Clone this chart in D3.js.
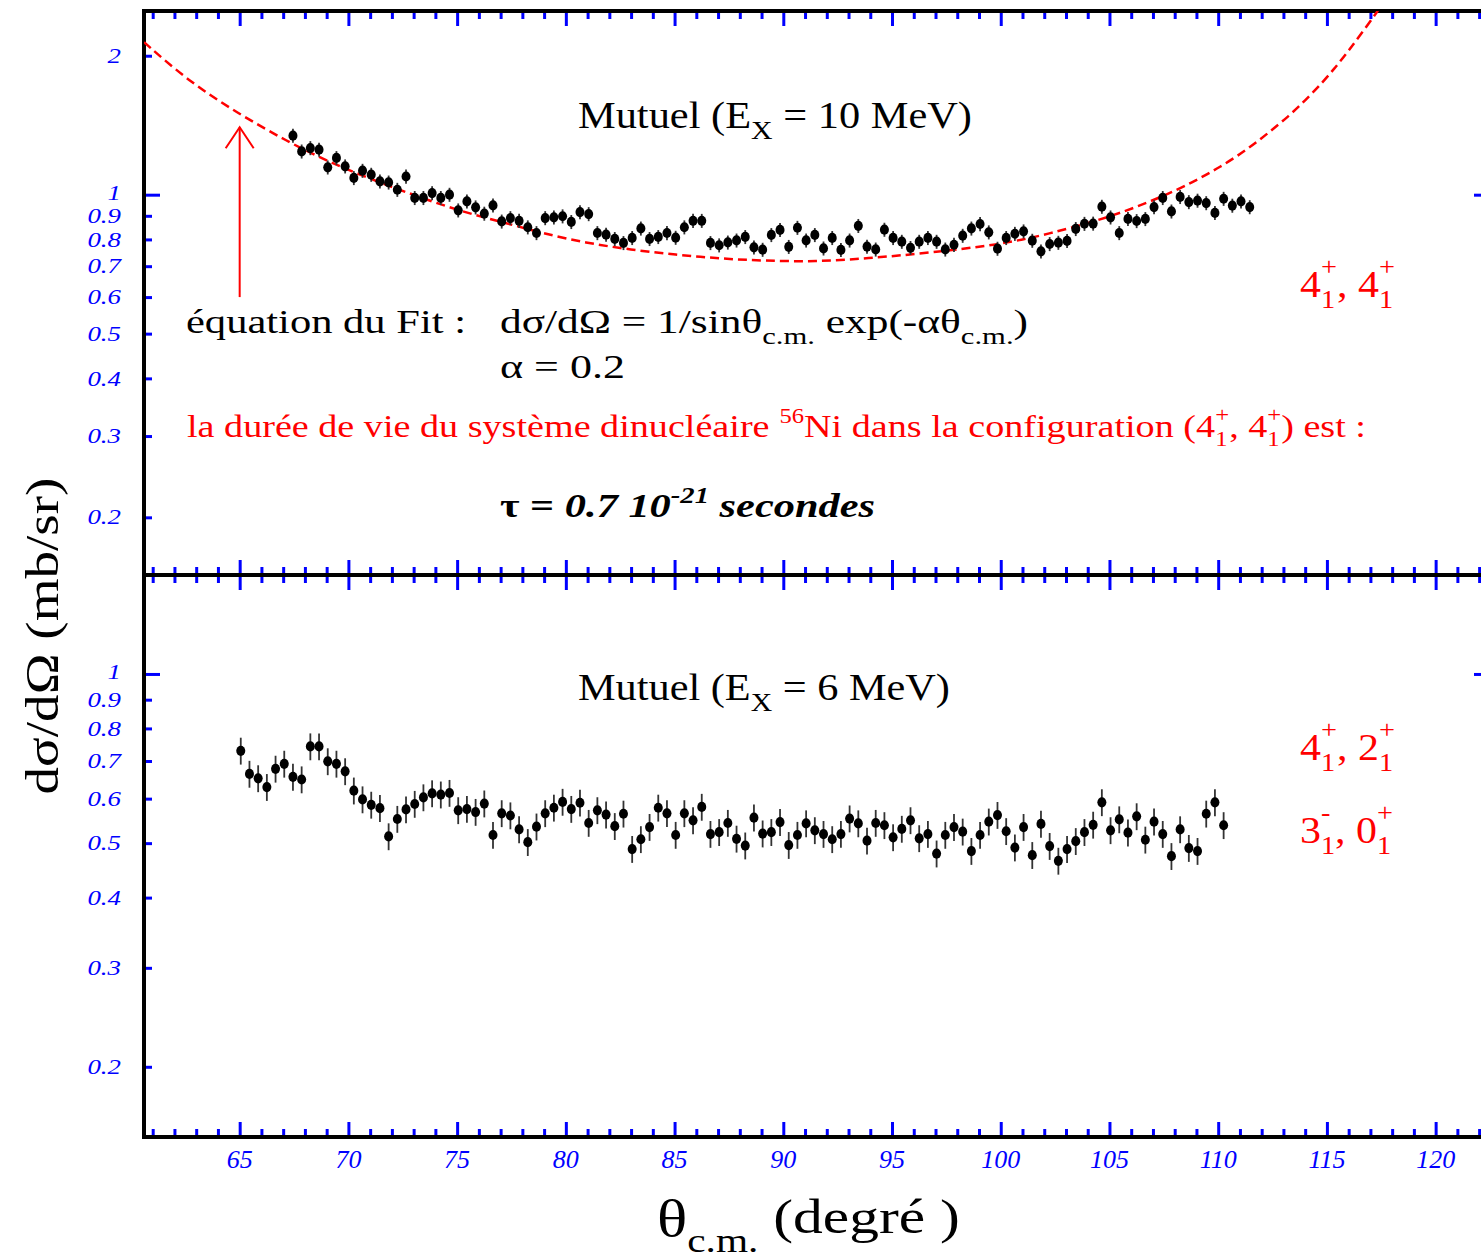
<!DOCTYPE html>
<html><head><meta charset="utf-8">
<script src="https://cdn.jsdelivr.net/npm/d3@7"></script>
<style>
body{margin:0;background:#fff}
svg{display:block}
text{font-family:"Liberation Serif","Times New Roman",serif;white-space:pre}
</style>
</head><body>
<svg id="chart" width="1481" height="1260"></svg>
<script>
// ---------- DATA ----------
const thetaTop = [67.45,67.85,68.25,68.65,69.05,69.45,69.85,70.25,70.65,71.05,71.45,71.85,72.25,72.65,73.05,73.45,73.85,74.25,74.65,75.05,75.45,75.85,76.25,76.65,77.05,77.45,77.85,78.25,78.65,79.05,79.45,79.85,80.25,80.65,81.05,81.45,81.85,82.25,82.65,83.05,83.45,83.85,84.25,84.65,85.05,85.45,85.85,86.25,86.65,87.05,87.45,87.85,88.25,88.65,89.05,89.45,89.85,90.25,90.65,91.05,91.45,91.85,92.25,92.65,93.05,93.45,93.85,94.25,94.65,95.05,95.45,95.85,96.25,96.65,97.05,97.45,97.85,98.25,98.65,99.05,99.45,99.85,100.25,100.65,101.05,101.45,101.85,102.25,102.65,103.05,103.45,103.85,104.25,104.65,105.05,105.45,105.85,106.25,106.65,107.05,107.45,107.85,108.25,108.65,109.05,109.45,109.85,110.25,110.65,111.05,111.45];
const valuesTop = [1.342,1.241,1.262,1.252,1.146,1.201,1.152,1.087,1.127,1.105,
1.069,1.063,1.025,1.095,0.984,0.984,1.008,0.984,1.000,0.925,
0.967,0.939,0.910,0.948,0.875,0.890,0.878,0.850,0.826,0.890,
0.893,0.898,0.873,0.917,0.908,0.826,
0.819,0.802,0.786,0.806,0.845,0.802,0.810,0.826,0.807,0.850,
0.878,0.878,0.786,0.777,0.788,0.796,0.810,0.769,0.760,0.818,
0.839,0.771,0.848,0.796,0.818,0.765,0.806,0.759,0.796,0.856,
0.772,0.761,0.840,0.806,0.791,0.767,0.791,0.806,0.791,0.761,
0.779,0.815,0.845,0.864,0.829,0.764,
0.806,0.823,0.833,0.795,0.754,0.782,0.787,0.794,0.843,0.865,
0.866,0.942,0.893,0.826,0.886,0.877,0.886,0.940,0.984,0.920,
0.989,0.964,0.971,0.959,0.913,0.980,0.947,0.967,0.940];
const thetaBottom = [65.05,65.45,65.85,66.25,66.65,67.05,67.45,67.85,68.25,68.65,69.05,69.45,69.85,70.25,70.65,71.05,71.45,71.85,72.25,72.65,73.05,73.45,73.85,74.25,74.65,75.05,75.45,75.85,76.25,76.65,77.05,77.45,77.85,78.25,78.65,79.05,79.45,79.85,80.25,80.65,81.05,81.45,81.85,82.25,82.65,83.05,83.45,83.85,84.25,84.65,85.05,85.45,85.85,86.25,86.65,87.05,87.45,87.85,88.25,88.65,89.05,89.45,89.85,90.25,90.65,91.05,91.45,91.85,92.25,92.65,93.05,93.45,93.85,94.25,94.65,95.05,95.45,95.85,96.25,96.65,97.05,97.45,97.85,98.25,98.65,99.05,99.45,99.85,100.25,100.65,101.05,101.45,101.85,102.25,102.65,103.05,103.45,103.85,104.25,104.65,105.05,105.45,105.85,106.25,106.65,107.05,107.45,107.85,108.25,108.65,109.05,109.45,109.85,110.25];
const valuesBottom = [0.730,0.664,0.652,0.629,0.678,0.692,0.656,0.649,0.743,0.743,
0.699,0.692,0.671,0.620,0.598,0.585,0.577,0.514,0.552,0.574,
0.587,0.603,0.613,0.610,0.614,0.572,0.575,0.568,0.588,0.517,
0.565,0.560,0.529,0.502,0.535,0.565,0.578,0.592,0.575,0.590,
0.543,0.572,
0.562,0.536,0.564,0.488,0.508,0.534,0.578,0.565,0.517,0.565,
0.549,0.580,0.519,0.523,0.543,0.509,0.495,0.555,0.520,0.523,
0.545,0.496,0.517,0.542,0.527,0.519,0.508,0.519,0.553,0.542,
0.505,0.543,0.538,0.512,0.530,0.549,0.510,0.519,0.479,0.517,
0.534,0.524,0.484,0.517,
0.546,0.561,0.525,0.491,0.534,0.476,0.541,0.494,0.465,0.488,
0.504,0.523,0.539,0.591,0.527,0.551,0.522,0.558,0.507,0.546,
0.519,0.474,0.529,0.490,0.484,0.564,0.591,0.538];
const relErrTop = 0.035;
const relErrBottom = 0.055;
// fit curve
const fitTheta = [60.6,62.66,64.92,67.18,69.04,71.09,73.16,75.18,77.25,78.9,80.92,82.99,85.06,87.08,89.15,91.5,93.8,96.8,99.9,102.1,105.1,107.3,108.8,110.1,111.3,112.3,113.25,114.0,114.8,115.4,116.0,116.6,117.3,117.6];
const fitValues = [2.14,1.76,1.50,1.305,1.181,1.078,0.992,0.920,0.868,0.826,0.786,0.760,0.741,0.727,0.719,0.716,0.727,0.749,0.779,0.819,0.896,0.984,1.062,1.148,1.250,1.360,1.480,1.600,1.750,1.890,2.050,2.240,2.482,2.62];
const arrowTheta = 65, arrowFrom = 0.6, arrowTo = 1.4;
const xTickLabels = [65,70,75,80,85,90,95,100,105,110,115,120];
const xMinorTicks = [61,62,63,64,66,67,68,69,71,72,73,74,76,77,78,79,81,82,83,84,86,87,88,89,91,92,93,94,96,97,98,99,101,102,103,104,106,107,108,109,111,112,113,114,116,117,118,119,121,122];
const yTicksTop = [0.2,0.3,0.4,0.5,0.6,0.7,0.8,0.9,1,2];
const yTickLabelsTop = ["0.2","0.3","0.4","0.5","0.6","0.7","0.8","0.9","1","2"];
const yTicksBottom = [0.2,0.3,0.4,0.5,0.6,0.7,0.8,0.9,1];
const yTickLabelsBottom = ["0.2","0.3","0.4","0.5","0.6","0.7","0.8","0.9","1"];

// ---------- LAYOUT ----------
const svg = d3.select("#chart");
const L = 144, R = 1490, T = 11, M = 575, B = 1137;
const x = d3.scaleLinear().domain([60.6, 122.5]).range([L, R]);
const yTop = d3.scaleLog().domain([0.15, 2.5]).range([M, T]);
const yBot = d3.scaleLog().domain([0.15, 1.5]).range([B, M]);
const BLUE = "#0000ff", RED = "#ff0000";

function styleAxis(g){
  g.select(".domain").remove();
  g.selectAll(".tick line").attr("stroke", BLUE).attr("stroke-width", 3);
  g.selectAll(".tick text").remove();
}
function xTicks(y, dir){
  const mk = dir < 0 ? d3.axisTop : d3.axisBottom;
  svg.append("g").attr("transform",`translate(0,${y})`)
    .call(mk(x).tickValues(xMinorTicks).tickSize(8).tickSizeOuter(0)).call(styleAxis);
  svg.append("g").attr("transform",`translate(0,${y})`)
    .call(mk(x).tickValues(xTickLabels).tickSize(15).tickSizeOuter(0)).call(styleAxis);
}
xTicks(T, 1); xTicks(M, -1); xTicks(M, 1); xTicks(B, -1);

function yTicks(scale, ticks){
  [[L, d3.axisRight],[R, d3.axisLeft]].forEach(([px, mk])=>{
    svg.append("g").attr("transform",`translate(${px},0)`)
      .call(mk(scale).tickValues(ticks.filter(v=>v!==1)).tickSize(8).tickSizeOuter(0)).call(styleAxis);
    svg.append("g").attr("transform",`translate(${px},0)`)
      .call(mk(scale).tickValues([1]).tickSize(16).tickSizeOuter(0)).call(styleAxis);
  });
}
yTicks(yTop, yTicksTop); yTicks(yBot, yTicksBottom);

function yLabels(scale, ticks, labels){
  svg.append("g").attr("transform","translate(121,0) scale(1.28,1) translate(-121,0)")
    .selectAll("text").data(ticks).join("text")
    .attr("x", 121).attr("y", d=>scale(d) + (d===1 ? -2 : 0)).attr("dy","0.34em")
    .attr("text-anchor","end").attr("fill",BLUE).attr("font-style","italic")
    .attr("font-size",21).text((d,i)=>labels[i]);
}
yLabels(yTop, yTicksTop, yTickLabelsTop);
yLabels(yBot, yTicksBottom, yTickLabelsBottom);

svg.append("g").selectAll("text").data(xTickLabels).join("text")
  .attr("x", d=>x(d)).attr("y", 1168).attr("text-anchor","middle")
  .attr("fill",BLUE).attr("font-style","italic").attr("font-size",26).text(d=>d);

// frame
const frame = svg.append("g").attr("stroke","#000").attr("stroke-width",4).attr("stroke-linecap","square");
frame.append("line").attr("x1",L).attr("x2",L).attr("y1",T).attr("y2",B);
frame.append("line").attr("x1",R).attr("x2",R).attr("y1",T).attr("y2",B);
[T,M,B].forEach(yy=>frame.append("line").attr("x1",L).attr("x2",R).attr("y1",yy).attr("y2",yy));

svg.append("defs").append("clipPath").attr("id","clipTop")
  .append("rect").attr("x",L).attr("y",T).attr("width",R-L).attr("height",M-T);

// fit curve
const fitData = fitTheta.map((t,i)=>({t, v:fitValues[i]}));
svg.append("path").datum(fitData)
  .attr("clip-path","url(#clipTop)")
  .attr("d", d3.line().x(d=>x(d.t)).y(d=>yTop(d.v)).curve(d3.curveBasis))
  .attr("fill","none").attr("stroke",RED).attr("stroke-width",2.5).attr("stroke-dasharray","9,5");

// arrow
const ax = x(arrowTheta), ay0 = yTop(arrowFrom), ay1 = yTop(arrowTo);
const arrow = svg.append("g").attr("stroke",RED).attr("stroke-width",2).attr("fill","none");
arrow.append("line").attr("x1",ax).attr("x2",ax).attr("y1",ay0).attr("y2",ay1);
arrow.append("path").attr("d",`M${ax-14},${ay1+21}L${ax},${ay1}L${ax+14},${ay1+21}`);

// data points
function drawPoints(thetas, vals, scale, err){
  const data = thetas.map((t,i)=>({t, v:vals[i]}));
  const g = svg.append("g");
  g.selectAll("line").data(data).join("line")
    .attr("x1",d=>x(d.t)).attr("x2",d=>x(d.t))
    .attr("y1",d=>scale(d.v*(1-err))).attr("y2",d=>scale(d.v*(1+err)))
    .attr("stroke","#333").attr("stroke-width",1.8);
  g.selectAll("ellipse").data(data).join("ellipse")
    .attr("cx",d=>x(d.t)).attr("cy",d=>scale(d.v)).attr("rx",4.5).attr("ry",5.1).attr("fill","#000");
}
drawPoints(thetaTop, valuesTop, yTop, relErrTop);
drawPoints(thetaBottom, valuesBottom, yBot, relErrBottom);

// ---------- rich text helper (stretched to the reference width) ----------
function rich(x0, y0, segs, common, target){
  const g = svg.append("g");
  let cx = x0;
  segs.forEach(s=>{
    const parts = s.stack ? s.stack : [s];
    let w = 0;
    parts.forEach(p=>{
      const t = g.append("text").attr("x",cx).attr("y",y0+(p.dy||0))
        .attr("font-size",p.size||common.size).attr("fill",p.fill||common.fill||"#000")
        .attr("font-style",p.style||common.style||"normal").attr("font-weight",p.weight||common.weight||"normal")
        .text(p.t);
      w = Math.max(w, t.node().getComputedTextLength());
    });
    cx += w;
  });
  if (target){
    const sx = target / (cx - x0);
    g.attr("transform",`translate(${x0},0) scale(${sx},1) translate(${-x0},0)`);
  }
  return g;
}

// titles
rich(578,128,[{t:"Mutuel (E"},{t:"X",size:26,dy:11},{t:" = 10 MeV)"}],{size:37},394);
rich(578,700,[{t:"Mutuel (E"},{t:"X",size:26,dy:11},{t:" = 6 MeV)"}],{size:37},372);

// fit equation text
rich(186,333,[{t:"équation du Fit :"}],{size:34},280);
rich(500,333,[{t:"dσ/dΩ = 1/sinθ"},{t:"c.m.",size:24,dy:11},{t:" exp(-αθ"},{t:"c.m.",size:24,dy:11},{t:")"}],{size:34},528);
rich(500,378,[{t:"α = 0.2"}],{size:34},125);

// red sentence
const sup = (t,s)=>({t,size:s,dy:-15});
const sub = (t,s)=>({t,size:s,dy:9});
rich(187,437,[{t:"la durée de vie du système dinucléaire "},{t:"56",size:20,dy:-14},{t:"Ni dans la configuration (4"},
  {stack:[sup("+",20),sub("1",20)]},{t:", 4"},{stack:[sup("+",20),sub("1",20)]},{t:") est :"}],{size:31,fill:RED},1179);

// tau
rich(500,517,[{t:"τ = ",weight:"bold"},{t:"0.7 10",weight:"bold",style:"italic"},{t:"-21",size:23,dy:-14,weight:"bold",style:"italic"},{t:" secondes",weight:"bold",style:"italic"}],{size:34},375);

// level labels
function level(x0,y0,a,as,b,bs,target){
  rich(x0,y0,[{t:a},{stack:[{t:as,size:25,dy:-22},{t:"1",size:25,dy:11}]},{t:", "+b},{stack:[{t:bs,size:25,dy:-22},{t:"1",size:25,dy:11}]}],{size:37,fill:RED},target);
}
level(1300,297,"4","+","4","+",95);
level(1300,760,"4","+","2","+",95);
level(1300,843,"3","-","0","+",93);

// axis titles
const yl = svg.append("text").attr("font-size",46).text("dσ/dΩ (mb/sr)");
const ylen = yl.node().getComputedTextLength();
yl.attr("text-anchor","middle")
  .attr("transform",`translate(58,636) rotate(-90) scale(${317/ylen},1)`);
rich(657,1236,[{t:"θ",size:52},{t:"c.m.",size:34,dy:16},{t:" (degré )",size:49,dy:-3}],{size:49},303);
</script>
</body></html>
